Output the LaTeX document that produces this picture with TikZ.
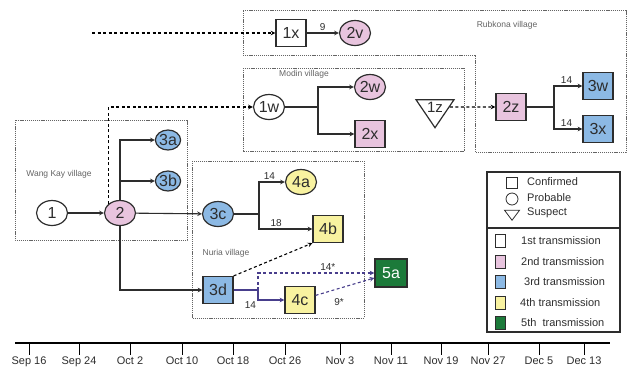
\documentclass[tikz,border=0pt]{standalone}
\usepackage{fontspec}
\setmainfont{Liberation Sans}
\usetikzlibrary{shapes.geometric, positioning}
\definecolor{edgegray}{RGB}{45,45,45}
\definecolor{txgray}{RGB}{45,45,45}
\definecolor{villgray}{RGB}{100,100,100}
\definecolor{tpink}{RGB}{232,196,222}
\definecolor{tblue}{RGB}{140,185,228}
\definecolor{tyellow}{RGB}{248,242,160}
\definecolor{tgreen}{RGB}{28,122,58}
\definecolor{tpurple}{RGB}{72,62,140}

\begin{document}
\begin{tikzpicture}[x=1pt, y=-1pt,
  conf/.style={rectangle, draw=edgegray, line width=1.2pt, minimum width=30pt, minimum height=27pt,
               inner sep=0pt, font=\fontsize{16}{16}\selectfont, text=txgray},
  prob/.style={ellipse, draw=edgegray, line width=1.2pt, minimum width=31pt, minimum height=25pt,
               inner sep=0pt, font=\fontsize{16}{16}\selectfont, text=txgray},
  small/.style={minimum width=25pt, minimum height=20pt},
  susp/.style={isosceles triangle, isosceles triangle apex angle=68, isosceles triangle stretches,
               shape border rotate=-90, draw=edgegray, line width=1.2pt, minimum width=38pt, minimum height=28pt,
               inner sep=0pt, font=\fontsize{15}{15}\selectfont, text=txgray},
  village/.style={draw=villgray, dash pattern=on 1.2pt off 0.9pt, line width=0.8pt},
  vlabel/.style={font=\fontsize{8.5}{8.5}\selectfont, text=villgray},
  num/.style={font=\fontsize{10}{10}\selectfont, text=txgray, inner sep=1.5pt},
  legtext/.style={font=\fontsize{11}{11}\selectfont, text=txgray, anchor=west, inner sep=0pt},
  swatch/.style={rectangle, draw=edgegray, line width=0.8pt, minimum width=10pt, minimum height=13pt, inner sep=0pt},
  date/.style={font=\fontsize{11}{11}\selectfont, text=txgray, anchor=north, inner sep=2pt},
  line/.style={line width=1.1pt, draw=edgegray},
  arrow/.style={-stealth, line width=1.1pt, draw=edgegray},
  dasharrow/.style={-stealth, line width=1.1pt, dash pattern=on 3pt off 2.5pt}]
\useasboundingbox (0,0) rectangle (631,373);

% villages
\draw[village] (243,10) -- (626,10) -- (626,152) -- (475,152) -- (475,55) -- (243,55) -- cycle;
\draw[village] (243,68) rectangle (464,151);
\draw[village] (15,120) rectangle (187,240);
\draw[village] (192,161) rectangle (364,318);
\node[vlabel] (rubkona) at (507,25)  {Rubkona village};
\node[vlabel] (modin)   at (304,74)  {Modin village};
\node[vlabel] (wangkay) at (59,174)  {Wang Kay village};
\node[vlabel] (nuria)   at (226,253) {Nuria village};

% cases
\node[conf]                 (1x) at (291,33)  {1x};
\node[prob, fill=tpink]     (2v) at (355,33)  {2v};
\node[prob]                 (1w) at (269,107) {1w};
\node[prob, fill=tpink]     (2w) at (370,87)  {2w};
\node[conf, fill=tpink]     (2x) at (370,134) {2x};
\node[susp]                 (1z) at (435,107) {1z};
\node[conf, fill=tpink]     (2z) at (511,107) {2z};
\node[conf, fill=tblue]     (3w) at (598,86)  {3w};
\node[conf, fill=tblue]     (3x) at (598,129) {3x};
\node[prob]                 (1)  at (52,213)  {1};
\node[prob, fill=tpink]     (2)  at (120,213) {2};
\node[prob, small, fill=tblue] (3a) at (168,140) {3a};
\node[prob, small, fill=tblue] (3b) at (168,181) {3b};
\node[prob, fill=tblue]     (3c) at (218,214) {3c};
\node[prob, fill=tyellow]   (4a) at (301,182) {4a};
\node[conf, fill=tyellow]   (4b) at (328,229) {4b};
\node[conf, fill=tblue]     (3d) at (218,290) {3d};
\node[conf, fill=tyellow]   (4c) at (300,300) {4c};
\node[conf, fill=tgreen, text=white, minimum width=32pt, minimum height=28pt] (5a) at (391,273) {5a};

\coordinate (src1x) at (92,33);
\coordinate (j1w) at (318,107);
\coordinate (j2z) at (554,107);
\coordinate (j3c) at (259,214);
\coordinate (j3d) at (258,290);

% links
\draw[dasharrow] (src1x) -- (1x);
\draw[arrow] (1x) -- (2v) node[num, midway, above] {9};
\draw[line] (1w) -- (j1w);
\draw[arrow] (j1w) |- (2w);
\draw[arrow] (j1w) |- (2x);
\draw[dasharrow] (1z) -- (2z);
\draw[line] (2z) -- (j2z);
\draw[arrow] (j2z) |- (3w) node[num, above, pos=0.72] {14};
\draw[arrow] (j2z) |- (3x) node[num, above, pos=0.72] {14};
\draw[arrow] (1) -- (2);
\draw[arrow] (2) -- (3c);
\draw[arrow] (2.north) |- (3a);
\draw[arrow] (2.north) |- (3b);
\draw[arrow] (2.south) |- (3d);
\draw[dasharrow] (2.north west) |- (1w);
\draw[line] (3c) -- (j3c);
\draw[arrow] (j3c) |- (4a) node[num, above, pos=0.7] {14};
\draw[arrow] (j3c) |- (4b) node[num, above, pos=0.66] {18};
\draw[dasharrow] (3d.north east) -- (4b.south west);
\draw[line, draw=tpurple] (3d) -- (j3d);
\draw[arrow, draw=tpurple] (j3d) |- (4c) node[num, pos=0.5, below left] {14};
\draw[dasharrow, draw=tpurple] (j3d) |- (5a) node[num, above, pos=0.8] {14*};
\draw[dasharrow, draw=tpurple] (4c) -- (5a) node[num, pos=0.4, below=8pt] {9*};

% legend
\draw[line width=1.1pt, draw=edgegray] (487,172) rectangle (620,332);
\draw[line width=1.1pt, draw=edgegray] (487,228) -- (620,228);
\node[rectangle, draw=edgegray, line width=0.8pt, minimum size=11pt, inner sep=0pt] (kconf) at (512,183) {};
\node[circle, draw=edgegray, line width=0.8pt, minimum size=12pt, inner sep=0pt] (kprob) at (512,199) {};
\node[isosceles triangle, isosceles triangle apex angle=70, isosceles triangle stretches, shape border rotate=-90,
      draw=edgegray, line width=0.8pt, minimum width=15pt, minimum height=10pt, inner sep=0pt] (ksusp) at (512,214) {};
\node[legtext] (tconf) at (527,182) {Confirmed};
\node[legtext] (tprob) at (527,198) {Probable};
\node[legtext] (tsusp) at (527,213) {Suspect};
\node[swatch]               (k1) at (500,241) {};
\node[swatch, fill=tpink]   (k2) at (500,262) {};
\node[swatch, fill=tblue]   (k3) at (500,282) {};
\node[swatch, fill=tyellow] (k4) at (500,303) {};
\node[swatch, fill=tgreen]  (k5) at (500,323) {};
\node[legtext] (t1) at (521,241) {1st transmission};
\node[legtext] (t2) at (521,262) {2nd transmission};
\node[legtext] (t3) at (524,282) {3rd transmission};
\node[legtext] (t4) at (520,303) {4th transmission};
\node[legtext] (t5) at (521,323) {5th\ \ transmission};

% time line
\coordinate (axisL) at (15,343);
\coordinate (axisR) at (610,343);
\draw[line width=2.8pt] (axisL) -- (axisR);
\node[date] (d1)  at (29,355)  {Sep 16};
\node[date] (d2)  at (79,355)  {Sep 24};
\node[date] (d3)  at (130,355) {Oct 2};
\node[date] (d4)  at (182,355) {Oct 10};
\node[date] (d5)  at (233,355) {Oct 18};
\node[date] (d6)  at (285,355) {Oct 26};
\node[date] (d7)  at (340,355) {Nov 3};
\node[date] (d8)  at (391,355) {Nov 11};
\node[date] (d9)  at (441,355) {Nov 19};
\node[date] (d10) at (488,355) {Nov 27};
\node[date] (d11) at (539,355) {Dec 5};
\node[date] (d12) at (584,355) {Dec 13};
\foreach \d in {d1,d2,d3,d4,d5,d6,d7,d8,d9,d10,d11,d12}
  \draw[line width=0.9pt] (\d.north |- axisL) -- (\d.north);
\end{tikzpicture}
\end{document}
